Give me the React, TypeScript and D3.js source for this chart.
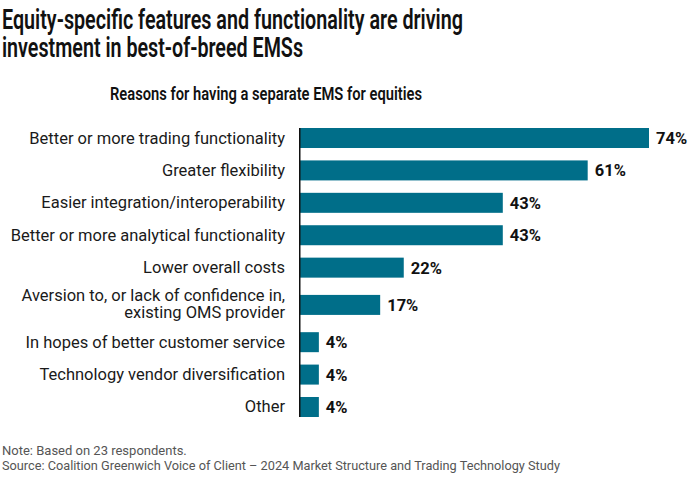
import React from 'react';
import * as d3 from 'd3';

// chart data
const categories = [
  'Better or more trading functionality',
  'Greater flexibility',
  'Easier integration/interoperability',
  'Better or more analytical functionality',
  'Lower overall costs',
  'Aversion to, or lack of confidence in,|existing OMS provider',
  'In hopes of better customer service',
  'Technology vendor diversification',
  'Other',
];
const values = [74, 61, 43, 43, 22, 17, 4, 4, 4];

const title = ['Equity-specific features and functionality are driving', 'investment in best-of-breed EMSs'];
const subtitle = 'Reasons for having a separate EMS for equities';
const notes = [
  'Note: Based on 23 respondents.',
  'Source: Coalition Greenwich Voice of Client \u2013 2024 Market Structure and Trading Technology Study',
];

const width = 692;
const height = 480;
const barColor = '#006e89';
const font = 'Roboto, "Liberation Sans", sans-serif';

const App = () => {
  const lines = categories.map(c => c.split('|'));
  // row sizes: two-line labels get a bit more room
  const units = lines.map(l => (l.length > 1 ? 1.3 : 1));
  const starts = units.map((u, i) => d3.sum(units.slice(0, i)));
  const total = d3.sum(units);

  const y = d3.scaleLinear().domain([0, total]).range([121.8, 423.2]);
  const x = d3.scaleLinear().domain([0, d3.max(values) as number]).range([300, 649]);
  const barH = 20;

  const centers = starts.map((s, i) => y(s + units[i] / 2));
  const axisTop = centers[0] - barH / 2;
  const axisBottom = centers[centers.length - 1] + barH / 2;

  return (
    <svg width={width} height={height} style={{ display: 'block', position: 'absolute', left: 0, top: 0 }}>
      <rect width={width} height={height} fill="#fff" />
      {/* title */}
      <g fontFamily={font} fontWeight={600} fill="#111" fontSize={27}>
        <text x={2} y={29} textLength={461} lengthAdjust="spacingAndGlyphs">{title[0]}</text>
        <text x={2} y={57} textLength={301} lengthAdjust="spacingAndGlyphs">{title[1]}</text>
      </g>
      <text x={266} y={100} textAnchor="middle" fontFamily={font} fontWeight={600} fontSize={18} fill="#111"
        textLength={312} lengthAdjust="spacingAndGlyphs">{subtitle}</text>

      {/* bars */}
      {values.map((v, i) => (
        <rect key={i} x={x(0)} y={centers[i] - barH / 2} width={x(v) - x(0)} height={barH} fill={barColor} />
      ))}

      {/* category labels */}
      <g fontFamily={font} fontSize={16.5} fill="#1a1a1a" textAnchor="end">
        {lines.map((l, i) =>
          l.length === 1 ? (
            <text key={i} x={285} y={centers[i] + 5.5}>{l[0]}</text>
          ) : (
            <text key={i} x={285} y={centers[i] - 3.5}>
              {l.map((t, j) => (
                <tspan key={j} x={285} dy={j === 0 ? 0 : 17}>{t}</tspan>
              ))}
            </text>
          )
        )}
      </g>

      {/* value labels */}
      <g fontFamily={font} fontSize={16.5} fontWeight={700} fill="#111">
        {values.map((v, i) => (
          <text key={i} x={x(v) + 7} y={centers[i] + 6}>{v}%</text>
        ))}
      </g>

      {/* axis line */}
      <line x1={299.75} x2={299.75} y1={axisTop} y2={axisBottom} stroke="#111" strokeWidth={1.5} />

      {/* notes */}
      <g fontFamily={font} fontSize={13} fill="#555">
        <text x={2} y={455}>{notes[0]}</text>
        <text x={2} y={470} textLength={558} lengthAdjust="spacingAndGlyphs">{notes[1]}</text>
      </g>
    </svg>
  );
};

export default App;
